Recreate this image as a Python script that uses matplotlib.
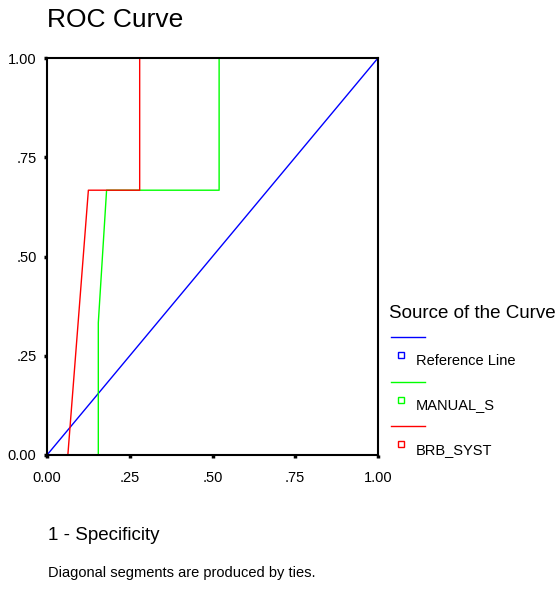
import matplotlib
matplotlib.use("Agg")
import matplotlib.pyplot as plt
from matplotlib.lines import Line2D

plt.rcParams['font.family'] = ['Liberation Sans', 'DejaVu Sans']

# ROC data (1 - specificity, sensitivity)
ref_x = [0.0, 1.0]
ref_y = [0.0, 1.0]
manual_x = [0.0, 0.155, 0.155, 0.18, 0.52, 0.52, 1.0]
manual_y = [0.0, 0.0, 0.333, 0.667, 0.667, 1.0, 1.0]
brb_x = [0.0, 0.063, 0.094, 0.125, 0.28, 0.28, 1.0]
brb_y = [0.0, 0.0, 0.333, 0.667, 0.667, 1.0, 1.0]

ticks = [0.0, 0.25, 0.5, 0.75, 1.0]
tick_labels = ['0.00', '.25', '.50', '.75', '1.00']

series_names = ['Reference Line', 'MANUAL_S', 'BRB_SYST']
series_colors = ['#0000ff', '#00ff00', '#ff0000']

W, H = 559, 589
fig = plt.figure(figsize=(W / 100, H / 100), dpi=100)

def px(x, y):
    # pixel coords (from top-left) -> figure fraction
    return x / W, 1 - y / H

ax = fig.add_axes([47 / W, 1 - 455 / H, 331 / W, 397 / H])
ax.plot(ref_x, ref_y, color=series_colors[0], lw=1)
ax.plot(manual_x, manual_y, color=series_colors[1], lw=1)
ax.plot(brb_x, brb_y, color=series_colors[2], lw=1)

ax.set_xlim(0, 1)
ax.set_ylim(0, 1)
ax.set_xticks(ticks)
ax.set_xticklabels(tick_labels)
ax.set_yticks(ticks)
ax.set_yticklabels(tick_labels)
ax.tick_params(direction='out', length=2.5, width=2.5, labelsize=10.5)
ax.tick_params(axis='x', pad=9)
ax.tick_params(axis='y', pad=5)
for s in ax.spines.values():
    s.set_linewidth(1.5)
for l in ax.lines:
    l.set_clip_on(False)

# titles
fig.text(*px(47, 20), 'ROC Curve', fontsize=19, va='center', ha='left')
fig.text(*px(48, 535), '1 - Specificity', fontsize=13.5, va='center', ha='left')
fig.text(*px(48, 573), 'Diagonal segments are produced by ties.', fontsize=10.5,
         va='center', ha='left')

# legend drawn by hand (line above, marker + label below)
fig.text(*px(389, 313), 'Source of the Curve', fontsize=13.5, va='center', ha='left')
for i, (name, col) in enumerate(zip(series_names, series_colors)):
    y0 = 337 + i * 44.5
    x1, y1 = px(391, y0)
    x2, _ = px(425, y0)
    fig.add_artist(Line2D([x1, x2], [y1, y1], color=col, lw=1, transform=fig.transFigure))
    mx, my = px(401, y0 + 18)
    fig.add_artist(Line2D([mx], [my], marker='s', markersize=4, markerfacecolor='white',
                          markeredgecolor=col, markeredgewidth=1, transform=fig.transFigure))
    fig.text(*px(416, y0 + 24), name, fontsize=10.5, va='center', ha='left')

fig.savefig('out.png', dpi=100)
